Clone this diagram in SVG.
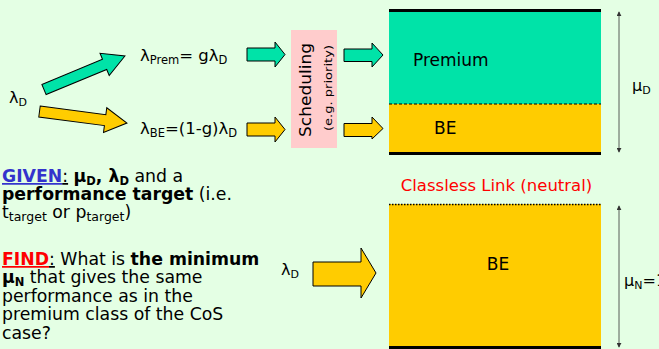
<svg xmlns="http://www.w3.org/2000/svg" width="659" height="349" viewBox="0 0 659 349">
<defs>
<style>
.t{font-family:"DejaVu Sans",sans-serif;fill:#000}
.ba{stroke:#000;stroke-width:1}
.teal{fill:#00E3A8}
.yel{fill:#FFCC00}
.dim{stroke:#333;stroke-width:0.8;fill:none;marker-start:url(#ah);marker-end:url(#ah)}
</style>
<marker id="ah" viewBox="0 0 6 6" refX="5" refY="3" markerWidth="5" markerHeight="5" orient="auto-start-reverse" markerUnits="userSpaceOnUse">
<path d="M0,0 L6,3 L0,6 z" fill="#333"/>
</marker>
</defs>
<rect width="659" height="349" fill="#E4FFE4"/>

<g id="connectors">
<path class="ba teal" transform="translate(44,89.5) rotate(-22.5)" d="M0,-5.5 L65.6,-5.5 L65.6,-12 L87.6,0 L65.6,12 L65.6,5.5 L0,5.5 z"/>
<path class="ba yel" transform="translate(39.5,111.5) rotate(7.5)" d="M0,-5.5 L66.2,-5.5 L66.2,-12.5 L88.2,0 L66.2,12.5 L66.2,5.5 L0,5.5 z"/>
<path class="ba teal" d="M247,48 L275,48 L275,42 L285,54.5 L275,67 L275,61 L247,61 z"/>
<path class="ba yel" d="M247,123 L275,123 L275,117 L285,129.5 L275,142 L275,136 L247,136 z"/>
<path class="ba teal" d="M344,49 L372,49 L372,43 L383,55 L372,67 L372,61.5 L344,61.5 z"/>
<path class="ba yel" d="M344,123.5 L372,123.5 L372,117 L383,128.5 L372,139 L372,136.5 L344,136.5 z"/>
<path class="ba yel" d="M313,262 L361,262 L361,248 L376,273 L361,298 L361,286 L313,286 z"/>
<line class="dim" x1="619" y1="12" x2="619" y2="152"/>
<line class="dim" x1="619" y1="206" x2="619" y2="347"/>
</g>

<g id="scheduling">
<rect x="291" y="30" width="46" height="118" fill="#FFCCCC"/>
<text class="t" transform="translate(311,90) rotate(-90)" text-anchor="middle" font-size="16.5" textLength="94" lengthAdjust="spacingAndGlyphs">Scheduling</text>
<text class="t" transform="translate(332,88) rotate(-90)" text-anchor="middle" font-size="11" textLength="86" lengthAdjust="spacingAndGlyphs">(e.g. priority)</text>
</g>

<g id="link-cos">
<rect x="389" y="11" width="212" height="93" fill="#00E3A8"/>
<rect x="389" y="104" width="212" height="49.5" fill="#FFCC00"/>
<line x1="389" y1="104" x2="601" y2="104" stroke="#000" stroke-width="1" stroke-dasharray="3,2"/>
<line x1="389" y1="10.5" x2="601" y2="10.5" stroke="#000" stroke-width="3"/>
<line x1="389" y1="153.5" x2="601" y2="153.5" stroke="#000" stroke-width="3"/>
<text class="t" x="413" y="66" font-size="17">Premium</text>
<text class="t" x="434" y="134" font-size="17">BE</text>
</g>

<g id="link-classless">
<rect x="389" y="204" width="212" height="143" fill="#FFCC00"/>
<line x1="389" y1="204.5" x2="601" y2="204.5" stroke="#000" stroke-width="1.5" stroke-dasharray="1.5,1.5"/>
<line x1="389" y1="347.5" x2="601" y2="347.5" stroke="#000" stroke-width="3"/>
<text class="t" x="498" y="270" font-size="17" text-anchor="middle">BE</text>
<text class="t" x="496.5" y="191" font-size="16.5" text-anchor="middle" style="fill:#FF0000">Classless Link (neutral)</text>
</g>

<g id="labels">
<text class="t" x="9" y="103" font-size="16">λ<tspan font-size="11" dy="3">D</tspan></text>
<text class="t" x="140" y="61" font-size="16.5">λ<tspan font-size="11.5" dy="3">Prem</tspan><tspan dy="-3">= gλ</tspan><tspan font-size="11.5" dy="3">D</tspan></text>
<text class="t" x="140" y="134" font-size="16.5">λ<tspan font-size="11.5" dy="3">BE</tspan><tspan dy="-3">=(1-g)λ</tspan><tspan font-size="11.5" dy="3">D</tspan></text>
<text class="t" x="281" y="275" font-size="16">λ<tspan font-size="11" dy="3">D</tspan></text>
<text class="t" x="632" y="91" font-size="16">μ<tspan font-size="11" dy="3">D</tspan></text>
<text class="t" x="624" y="286" font-size="16">μ<tspan font-size="11" dy="3">N</tspan><tspan dy="-3">=</tspan><tspan x="656">1</tspan></text>
</g>

<g id="given-find">
<text class="t" x="2" y="182" font-size="17.3"><tspan font-weight="bold" fill="#3333CC" text-decoration="underline">GIVEN</tspan><tspan text-decoration="underline">:</tspan> <tspan font-weight="bold">μ<tspan font-size="11.5" dy="3">D</tspan><tspan dy="-3">, λ</tspan><tspan font-size="11.5" dy="3">D</tspan></tspan><tspan dy="-3"> and a</tspan></text>
<text class="t" x="2" y="200" font-size="17.3"><tspan font-weight="bold">performance target</tspan> (i.e.</text>
<text class="t" x="2" y="218" font-size="17.3">t<tspan font-size="12.5" dy="3">target</tspan><tspan dy="-3"> or p</tspan><tspan font-size="12.5" dy="3">target</tspan><tspan dy="-3">)</tspan></text>
<text class="t" x="2" y="265" font-size="17.3"><tspan font-weight="bold" fill="#FF0000" text-decoration="underline">FIND</tspan><tspan text-decoration="underline">:</tspan> What is <tspan font-weight="bold">the minimum</tspan></text>
<text class="t" x="2" y="283" font-size="17.3"><tspan font-weight="bold">μ<tspan font-size="11.5" dy="3">N</tspan></tspan><tspan dy="-3"> that gives the same</tspan></text>
<text class="t" x="2" y="302" font-size="17.3">performance as in the</text>
<text class="t" x="2" y="320" font-size="17.3">premium class of the CoS</text>
<text class="t" x="2" y="339" font-size="17.3">case?</text>
</g>
</svg>
